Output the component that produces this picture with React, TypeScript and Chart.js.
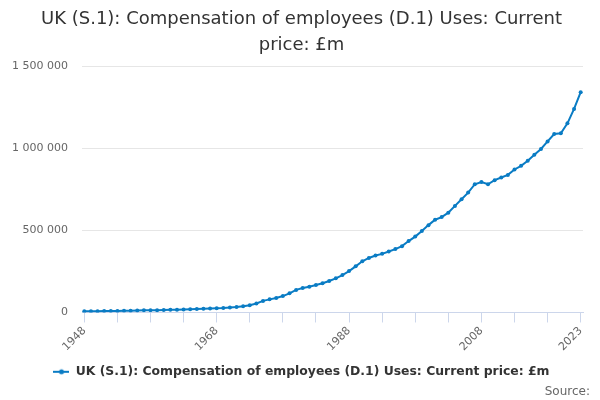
import { useEffect, useRef } from 'react';
import Chart from 'chart.js/auto';

const TITLE = ['UK (S.1): Compensation of employees (D.1) Uses: Current', 'price: £m'];
const SERIES_NAME = 'UK (S.1): Compensation of employees (D.1) Uses: Current price: £m';

const FIRST_YEAR = 1948;
const years = Array.from({ length: 76 }, (_, i) => FIRST_YEAR + i);

// £m
const values = [
  6700, 7100, 7500, 8400, 9000, 9600, 10200, 11100, 12100, 12800,
  13300, 14000, 15200, 16400, 17200, 18100, 19600, 21200, 22700, 23600,
  25300, 27200, 30600, 33600, 37900, 44100, 54400, 70500, 79900, 88300,
  100000, 116600, 137600, 148600, 157000, 167300, 178000, 192000, 208000, 228000,
  252000, 281000, 312000, 332000, 347000, 357000, 371000, 386000, 404000, 435000,
  462000, 496000, 532000, 565000, 581000, 608000, 649000, 690000, 730000, 781000,
  795000, 781000, 806000, 822000, 838000, 871000, 893000, 924000, 961000, 996000,
  1042000, 1087000, 1091000, 1152000, 1240000, 1342000,
];

const tickYears = years.filter((y) => (y - FIRST_YEAR) % 5 === 0);
const labelYears = [1948, 1968, 1988, 2008, 2023];
const yTicks = [0, 500000, 1000000, 1500000];

const LINE = '#0a7cc4';
const FONT = '"DejaVu Sans", sans-serif';

function legendSymbol() {
  const c = document.createElement('canvas');
  c.width = 16;
  c.height = 8;
  const ctx = c.getContext('2d')!;
  ctx.strokeStyle = LINE;
  ctx.lineWidth = 2;
  ctx.beginPath();
  ctx.moveTo(0, 4);
  ctx.lineTo(16, 4);
  ctx.stroke();
  ctx.fillStyle = LINE;
  ctx.beginPath();
  ctx.arc(8, 4, 2.5, 0, Math.PI * 2);
  ctx.fill();
  return c;
}

// title and legend are centred on the whole canvas in the original, not on the padded box
const centreBoxes = {
  id: 'centreBoxes',
  afterLayout(chart: any) {
    for (const box of [chart.titleBlock, chart.legend]) {
      if (!box) continue;
      box.left += 10;
      box.right += 10;
    }
  },
};

const sourcePlugin = {
  id: 'sourceText',
  afterDraw(chart: Chart) {
    const ctx = chart.ctx;
    ctx.save();
    ctx.font = `12px ${FONT}`;
    ctx.fillStyle = '#666666';
    ctx.textAlign = 'right';
    ctx.textBaseline = 'alphabetic';
    ctx.fillText('Source:', 590, 395);
    ctx.restore();
  },
};

export default function App() {
  const chartRef = useRef<HTMLCanvasElement>(null);
  const chartInstance = useRef<Chart | null>(null);

  useEffect(() => {
    document.body.style.margin = '0';
    if (!chartRef.current) return;
    if (chartInstance.current) chartInstance.current.destroy();

    const symbol = legendSymbol();

    chartInstance.current = new Chart(chartRef.current, {
      type: 'line',
      data: {
        datasets: [
          {
            label: SERIES_NAME,
            data: years.map((y, i) => ({ x: y, y: values[i] })),
            borderColor: LINE,
            backgroundColor: LINE,
            borderWidth: 2,
            pointStyle: 'circle',
            pointRadius: 2,
            pointHoverRadius: 3,
            pointBorderWidth: 0,
            tension: 0,
          },
        ],
      },
      options: {
        animation: false,
        responsive: false,
        maintainAspectRatio: false,
        layout: { padding: { left: 0, right: 17, top: 4, bottom: 12 } },
        plugins: {
          title: {
            display: true,
            text: TITLE,
            color: '#333333',
            font: { family: FONT, size: 18, weight: 'normal', lineHeight: 1.45 },
            padding: { top: 2, bottom: 8 },
          },
          legend: {
            position: 'bottom',
            labels: {
              color: '#333333',
              font: { family: FONT, size: 12.4, weight: 'bold' },
              usePointStyle: true,
              pointStyleWidth: 16,
              padding: 10,
              generateLabels: () => [
                {
                  text: SERIES_NAME,
                  pointStyle: symbol,
                  fillStyle: LINE,
                  strokeStyle: LINE,
                  lineWidth: 0,
                  hidden: false,
                  datasetIndex: 0,
                  fontColor: '#333333',
                } as any,
              ],
            },
          },
          tooltip: { enabled: false },
        },
        scales: {
          x: {
            type: 'linear',
            min: FIRST_YEAR - 0.35,
            max: years[years.length - 1] + 0.35,
            afterBuildTicks: (scale: any) => {
              scale.ticks = tickYears.map((v) => ({ value: v }));
            },
            ticks: {
              autoSkip: false,
              maxRotation: 45,
              minRotation: 45,
              color: '#666666',
              font: { family: FONT, size: 11 },
              padding: 2,
              callback: (v: any) => (labelYears.includes(Number(v)) ? String(v) : ''),
            },
            grid: {
              drawOnChartArea: false,
              drawTicks: true,
              tickLength: 10,
              color: '#ccd6eb',
            },
            border: { display: true, color: '#ccd6eb', width: 1 },
          },
          y: {
            min: 0,
            max: 1500000,
            afterBuildTicks: (scale: any) => {
              scale.ticks = yTicks.map((v) => ({ value: v }));
            },
            afterFit: (scale: any) => {
              scale.width = 82;
            },
            ticks: {
              color: '#666666',
              font: { family: FONT, size: 11 },
              padding: 14,
              callback: (v: any) => Number(v).toLocaleString('en-US').replace(/,/g, ' '),
            },
            grid: { color: '#e6e6e6', drawTicks: false },
            border: { display: false },
          },
        },
      },
      plugins: [centreBoxes, sourcePlugin],
    });

    return () => {
      if (chartInstance.current) {
        chartInstance.current.destroy();
        chartInstance.current = null;
      }
    };
  }, []);

  return (
    <div style={{ width: 600, height: 400, background: '#ffffff' }}>
      <canvas ref={chartRef} width={600} height={400} />
    </div>
  );
}
